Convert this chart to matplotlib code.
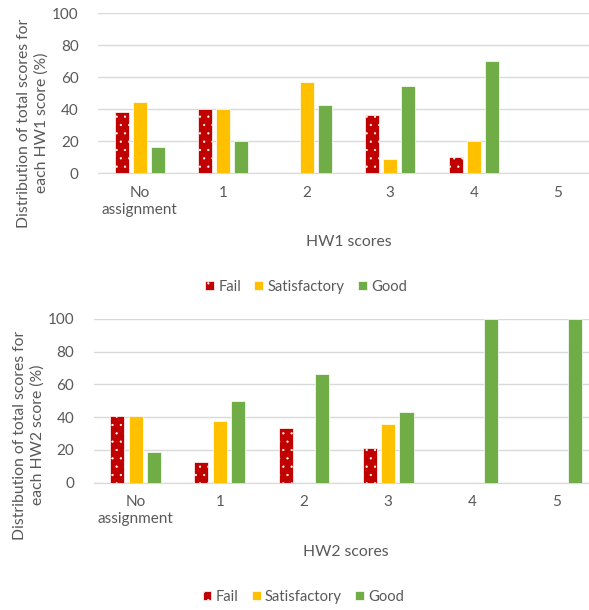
import numpy as np
import matplotlib
matplotlib.use("Agg")
import matplotlib.pyplot as plt

# score categories on the x axis
categories = ["No\nassignment", "1", "2", "3", "4", "5"]
series_names = ["Fail", "Satisfactory", "Good"]

# HW1: % of Fail / Satisfactory / Good total scores for each HW1 score
hw1_fail = [38.5, 40.0, 0.0, 36.4, 10.0, 0.0]
hw1_satisfactory = [44.5, 40.0, 57.1, 9.1, 20.0, 0.0]
hw1_good = [16.5, 20.0, 42.9, 54.5, 70.0, 0.0]

# HW2
hw2_fail = [40.6, 12.5, 33.3, 21.4, 0.0, 0.0]
hw2_satisfactory = [40.6, 37.5, 0.0, 35.7, 0.0, 0.0]
hw2_good = [18.8, 50.0, 66.7, 42.9, 100.0, 100.0]

colors = ["#C00000", "#FFC000", "#70AD47"]
text_gray = "#595959"
grid_gray = "#D9D9D9"

plt.rcParams["font.family"] = ["Lato", "DejaVu Sans"]
plt.rcParams["hatch.color"] = "white"
plt.rcParams["hatch.linewidth"] = 0.4

W, H = 589, 610
fig = plt.figure(figsize=(W / 100, H / 100), dpi=100)


def draw_panel(rect, series, xlabel, ylabel, ylabel_x, ylabel_y, legend_xy):
    ax = fig.add_axes(rect)
    x = np.arange(len(categories))
    width = 0.167
    pitch = 0.218
    handles = []
    for i, vals in enumerate(series):
        b = ax.bar(x + (i - 1) * pitch, vals, width, color=colors[i],
                   edgecolor="white", linewidth=0.5, zorder=3,
                   hatch=".." if i == 0 else None)
        handles.append(b)
    ax.set_xlim(-0.5, len(categories) - 0.5)
    ax.set_ylim(0, 100)
    ax.set_yticks([0, 20, 40, 60, 80, 100])
    ax.set_xticks(x)
    ax.set_xticklabels(categories)
    for lab in ax.get_xticklabels():
        lab.set_linespacing(1.3)
    ax.grid(axis="y", color=grid_gray, linewidth=1.0, zorder=0)
    for s in ["top", "right", "left"]:
        ax.spines[s].set_visible(False)
    ax.spines["bottom"].set_color(grid_gray)
    ax.tick_params(axis="both", length=0, colors=text_gray, labelsize=11)
    ax.tick_params(axis="x", pad=9)
    ax.tick_params(axis="y", pad=14)
    ax.set_xlabel(xlabel, fontsize=11.3, color=text_gray, labelpad=13)
    fig.text(ylabel_x / W, 1 - ylabel_y / H, ylabel, rotation=90,
             ha="center", va="center", fontsize=11.3, color=text_gray,
             linespacing=1.3)
    leg = fig.legend(handles, series_names, loc="center",
                     bbox_to_anchor=(legend_xy[0] / W, 1 - legend_xy[1] / H),
                     ncol=3, frameon=False, fontsize=10.6,
                     handlelength=0.6, handleheight=0.6, handletextpad=0.3,
                     columnspacing=0.9)
    for t in leg.get_texts():
        t.set_color(text_gray)
    return ax


# pixel geometry of the two plot areas
def rect(left, top, bottom, right):
    return [left / W, 1 - bottom / H, (right - left) / W, (bottom - top) / H]


draw_panel(rect(98, 13.3, 173.3, 599),
           [hw1_fail, hw1_satisfactory, hw1_good],
           "HW1 scores",
           "Distribution of total scores for\neach HW1 score (%)",
           33, 123, (306, 287))

draw_panel(rect(93.5, 319, 482.7, 598.6),
           [hw2_fail, hw2_satisfactory, hw2_good],
           "HW2 scores",
           "Distribution of total scores for\neach HW2 score (%)",
           29, 435, (303.5, 597))

fig.savefig("out.png", dpi=100)
